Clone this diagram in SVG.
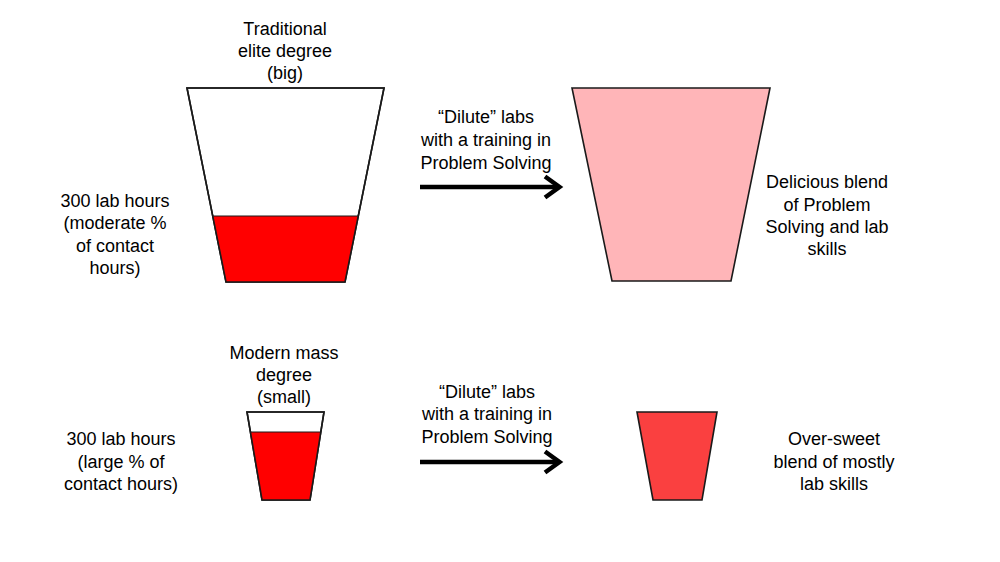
<svg xmlns="http://www.w3.org/2000/svg" width="1000" height="562" viewBox="0 0 1000 562">
<style>
text{font-family:"Liberation Sans",Arial,sans-serif;font-size:18px;fill:#000;text-anchor:middle}
.cup{stroke:#1a1a1a;stroke-width:1.6;stroke-linejoin:miter}
.arr{stroke:#000;stroke-width:4.5;fill:none}
</style>
<rect width="1000" height="562" fill="#fff"/>
<g id="cup-elite">
<polygon class="cup" points="187,88 384,88 345,282 226,282" fill="#fff"/>
<polygon points="213,216 358,216 345,282 226,282" fill="#ff0000"/>
<line x1="213" y1="216" x2="358" y2="216" stroke="#1a1a1a" stroke-width="1"/>
<polygon class="cup" points="187,88 384,88 345,282 226,282" fill="none"/>
</g>
<g id="label-elite">
<text x="285" y="35">Traditional</text>
<text x="285" y="57">elite degree</text>
<text x="285" y="79">(big)</text>
</g>
<g id="label-elite-hours">
<text x="115" y="207">300 lab hours</text>
<text x="115" y="229">(moderate %</text>
<text x="115" y="252">of contact</text>
<text x="115" y="274">hours)</text>
</g>
<g id="label-dilute-top">
<text x="486" y="123">“Dilute” labs</text>
<text x="486" y="146">with a training in</text>
<text x="486" y="169">Problem Solving</text>
</g>
<g id="cup-blend">
<polygon class="cup" points="572,88 770,88 731,281 612,281" fill="#ffb5b8"/>
</g>
<g id="label-blend">
<text x="827" y="188">Delicious blend</text>
<text x="827" y="211">of Problem</text>
<text x="827" y="233">Solving and lab</text>
<text x="827" y="255">skills</text>
</g>
<g id="cup-mass">
<polygon class="cup" points="247,412 324,412 310,500 262,500" fill="#fff"/>
<polygon points="250,432 321,432 310,500 262,500" fill="#ff0000"/>
<line x1="250" y1="432" x2="321" y2="432" stroke="#1a1a1a" stroke-width="1"/>
<polygon class="cup" points="247,412 324,412 310,500 262,500" fill="none"/>
</g>
<g id="label-mass">
<text x="284" y="359">Modern mass</text>
<text x="284" y="381">degree</text>
<text x="284" y="403">(small)</text>
</g>
<g id="label-mass-hours">
<text x="121" y="445">300 lab hours</text>
<text x="121" y="468">(large % of</text>
<text x="121" y="490">contact hours)</text>
</g>
<g id="label-dilute-bottom">
<text x="487" y="398">“Dilute” labs</text>
<text x="487" y="420">with a training in</text>
<text x="487" y="443">Problem Solving</text>
</g>
<g id="cup-oversweet">
<polygon class="cup" points="637,412 717,412 702,500 653,500" fill="#fa4040"/>
</g>
<g id="label-oversweet">
<text x="834" y="445">Over-sweet</text>
<text x="834" y="468">blend of mostly</text>
<text x="834" y="490">lab skills</text>
</g>
<g id="connectors">
<line class="arr" x1="420" y1="187" x2="559" y2="187"/>
<polyline class="arr" points="545,176.5 559.5,187 545,197.5"/>
<line class="arr" x1="420" y1="462" x2="559" y2="462"/>
<polyline class="arr" points="545,451.5 559.5,462 545,472.5"/>
</g>
</svg>
